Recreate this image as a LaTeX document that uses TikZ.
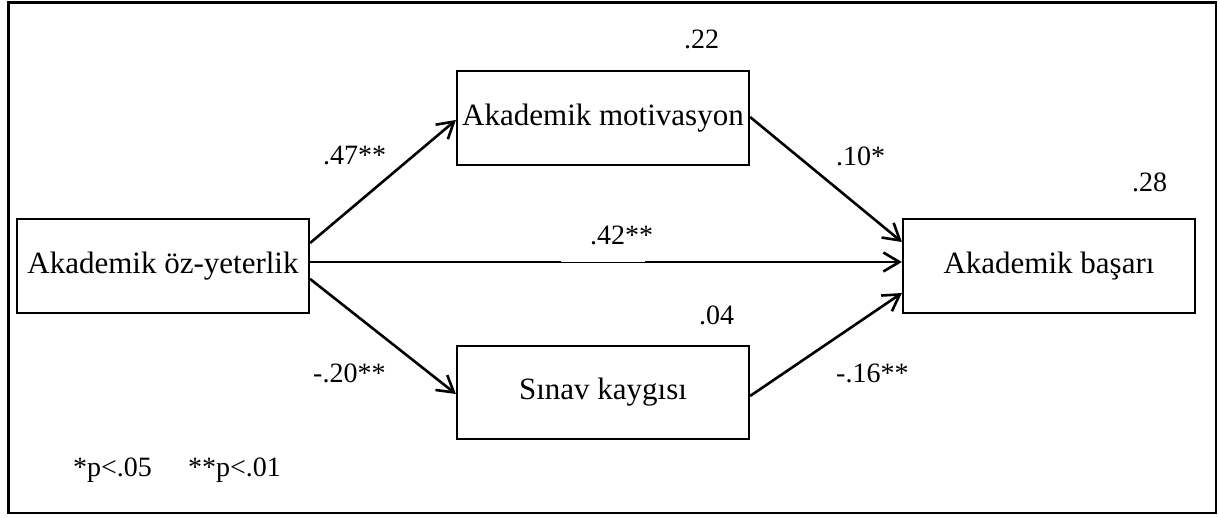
\documentclass[tikz,border=0pt]{standalone}
\usepackage{fontspec}
\setmainfont{Liberation Serif}
\usetikzlibrary{arrows.meta}
\begin{document}
\begin{tikzpicture}[x=1pt,y=-1pt,
  varbox/.style={draw=black, line width=2.2pt, minimum width=292pt, minimum height=94pt, inner sep=0pt, font=\fontsize{31}{36}\selectfont},
  coef/.style={anchor=base west, inner sep=0pt, font=\fontsize{28}{32}\selectfont},
  path/.style={draw=black, line width=2.6pt, -{Straight Barb[length=16pt,width=19pt,line width=2.6pt]}}
]
\useasboundingbox (0,0) rectangle (1219,518);
\draw[line width=2.6pt] (8.5,2.5) rectangle (1216,513);

\node[varbox] (L) at (163,266) {Akademik öz-yeterlik};
\node[varbox] (M) at (603,118) {Akademik motivasyon};
\node[varbox, minimum height=93pt] (S) at (603,392.5) {Sınav kaygısı};
\node[varbox] (R) at (1049,266) {Akademik başarı};

\draw[path] ([yshift=23pt]L.east) -- ([yshift=-2pt]M.west);
\draw[path] ([yshift=4pt]L.east) -- ([yshift=4pt]R.west);
\draw[path] ([yshift=-13pt]L.east) -- ([yshift=-1.5pt]S.west);
\draw[path] ([yshift=1pt]M.east) -- ([yshift=24pt]R.west);
\draw[path] ([yshift=-3.5pt]S.east) -- ([yshift=-27pt]R.west);
\fill[white] (561,259.9) rectangle (645,261.6);

\node[coef] (c22) at (684,49) {.22};
\node[coef] (c47) at (323,165) {.47**};
\node[coef] (c10) at (836,166) {.10*};
\node[coef] (c28) at (1132,192) {.28};
\node[coef] (c42) at (590,245) {.42**};
\node[coef] (c04) at (699,325) {.04};
\node[coef] (c20) at (313,383) {-.20**};
\node[coef] (c16) at (836,383) {-.16**};
\node[coef] (n1) at (73,477) {*p<.05};
\node[coef] (n2) at (188,477) {**p<.01};
\end{tikzpicture}
\end{document}
